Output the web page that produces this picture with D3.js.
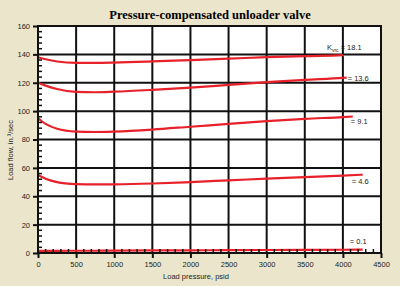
<!DOCTYPE html>
<html>
<head>
<meta charset="utf-8">
<script src="https://cdn.jsdelivr.net/npm/d3@7"></script>
<style>
  body { margin: 0; background: #ebe6cb; }
  text { font-family: "Liberation Sans", Arial, sans-serif; }
</style>
</head>
<body>
<div id="chart"></div>
<script>
// load pressure (psid) sample points
var pressure = [0, 100, 250, 500, 750, 1000, 1500, 2000, 2500, 3000, 3500, 4000];

// load flow, in.3/sec, one array per K value
var k181 = [138, 136.6, 135, 134, 134, 134.2, 135, 136, 137, 138, 138.8, 139.5];
var k136 = [120, 118, 115.6, 113.6, 113.3, 113.7, 115, 116.6, 118.5, 120.4, 122, 123.4];
var k91  = [95, 91, 87.6, 85.6, 85.3, 85.6, 87, 89, 91, 93, 94.6, 95.8];
var k46  = [55, 52.4, 50, 48.6, 48.3, 48.4, 49, 50, 51.2, 52.4, 53.5, 54.6];
var k01  = [1.5, 1.5, 1.5, 1.6, 1.6, 1.7, 1.8, 1.9, 2, 2.1, 2.2, 2.3];

// last point of each curve runs a bit past 4000
var endP = [4000, 4050, 4130, 4260, 4260];
var endQ = [139.6, 123.6, 96.2, 55.2, 2.4];

var kLabels = ["18.1", "13.6", "9.1", "4.6", "0.1"];
var xTicks = [0, 500, 1000, 1500, 2000, 2500, 3000, 3500, 4000, 4500];
var yTicks = [0, 20, 40, 60, 80, 100, 120, 140, 160];

var margin = {top: 26, right: 19, bottom: 33, left: 38},
	width = 400 - margin.left - margin.right,
	height = 286 - margin.top - margin.bottom;

var x = d3.scaleLinear().domain([0, 4500]).range([0, width]),
	y = d3.scaleLinear().domain([0, 160]).range([height, 0]);

var svg = d3.select("#chart").append("svg")
	.attr("width", 400)
	.attr("height", 286);

svg.append("text")
	.attr("x", 210)
	.attr("y", 19)
	.attr("text-anchor", "middle")
	.style("font-family", "'Liberation Serif', 'Times New Roman', serif")
	.style("font-weight", "bold")
	.style("font-size", "12.5px")
	.text("Pressure-compensated unloader valve");

var g = svg.append("g")
	.attr("transform", "translate(" + margin.left + "," + margin.top + ")");

g.append("rect")
	.attr("width", width)
	.attr("height", height)
	.attr("fill", "#fff");

// grid
g.selectAll(".vgrid").data(xTicks.slice(1, -1)).enter().append("line")
	.attr("x1", function(d) { return x(d); })
	.attr("x2", function(d) { return x(d); })
	.attr("y1", 0).attr("y2", height)
	.attr("stroke", "#111").attr("stroke-width", 2);

g.selectAll(".hgrid").data(yTicks.slice(1, -1)).enter().append("line")
	.attr("y1", function(d) { return y(d); })
	.attr("y2", function(d) { return y(d); })
	.attr("x1", 0).attr("x2", width)
	.attr("stroke", "#111").attr("stroke-width", 2);

// curves
var series = [k181, k136, k91, k46, k01];
var line = d3.line()
	.x(function(d) { return x(d[0]); })
	.y(function(d) { return y(d[1]); })
	.curve(d3.curveMonotoneX);

series.forEach(function(s, i) {
	var pts = pressure.map(function(p, j) { return [p, s[j]]; });
	pts.push([endP[i], endQ[i]]);
	g.append("path")
		.attr("d", line(pts))
		.attr("fill", "none")
		.attr("stroke", "#e8202a")
		.attr("stroke-width", 2.2);
});

// minor ticks inside the plot
var yMinor = d3.range(0, 161, 4).filter(function(d) { return d % 20 != 0; });
g.selectAll(".ymin").data(yMinor).enter().append("line")
	.attr("x1", 0).attr("x2", 4)
	.attr("y1", function(d) { return y(d); })
	.attr("y2", function(d) { return y(d); })
	.attr("stroke", "#111").attr("stroke-width", 1.5);

var xMinor = d3.range(0, 4501, 100).filter(function(d) { return d % 500 != 0; });
g.selectAll(".xmin").data(xMinor).enter().append("line")
	.attr("y1", height).attr("y2", height - 4)
	.attr("x1", function(d) { return x(d); })
	.attr("x2", function(d) { return x(d); })
	.attr("stroke", "#111").attr("stroke-width", 1.5);

// border
g.append("rect")
	.attr("width", width)
	.attr("height", height)
	.attr("fill", "none")
	.attr("stroke", "#111")
	.attr("stroke-width", 2);

// axes
var xAxis = g.append("g")
	.attr("transform", "translate(0," + height + ")")
	.call(d3.axisBottom(x).tickValues(xTicks).tickFormat(d3.format("d")).tickSize(5).tickPadding(4));
var yAxis = g.append("g")
	.call(d3.axisLeft(y).tickValues(yTicks).tickFormat(d3.format("d")).tickSize(5).tickPadding(3));

[xAxis, yAxis].forEach(function(a) {
	a.select(".domain").remove();
	a.selectAll("line").attr("stroke", "#111").attr("stroke-width", 2);
	a.selectAll("text").style("font-size", "7.5px").attr("fill", "#222");
});

// K labels next to curve ends
var lblDx = [-16, 1, -2, -11, -13];
var lblDy = [-5, 3, 7, 9, -6];
series.forEach(function(s, i) {
	var t = g.append("text")
		.attr("x", x(endP[i]) + lblDx[i])
		.attr("y", y(endQ[i]) + lblDy[i])
		.style("font-size", "7.5px")
		.attr("fill", "#222");
	if (i == 0) {
		t.append("tspan").text("K");
		t.append("tspan").attr("dy", 2).style("font-size", "5px").text("vrc");
		t.append("tspan").attr("dy", -2).text(" = " + kLabels[i]);
	} else {
		t.text("= " + kLabels[i]);
	}
});

svg.append("text")
	.attr("x", 196)
	.attr("y", 279)
	.attr("text-anchor", "middle")
	.style("font-size", "7.5px")
	.attr("fill", "#222")
	.text("Load pressure, psid");

svg.append("text")
	.attr("transform", "translate(13,150) rotate(-90)")
	.attr("text-anchor", "middle")
	.style("font-size", "7.5px")
	.attr("fill", "#222")
	.text("Load flow, in.\u00b3/sec");
</script>
</body>
</html>
